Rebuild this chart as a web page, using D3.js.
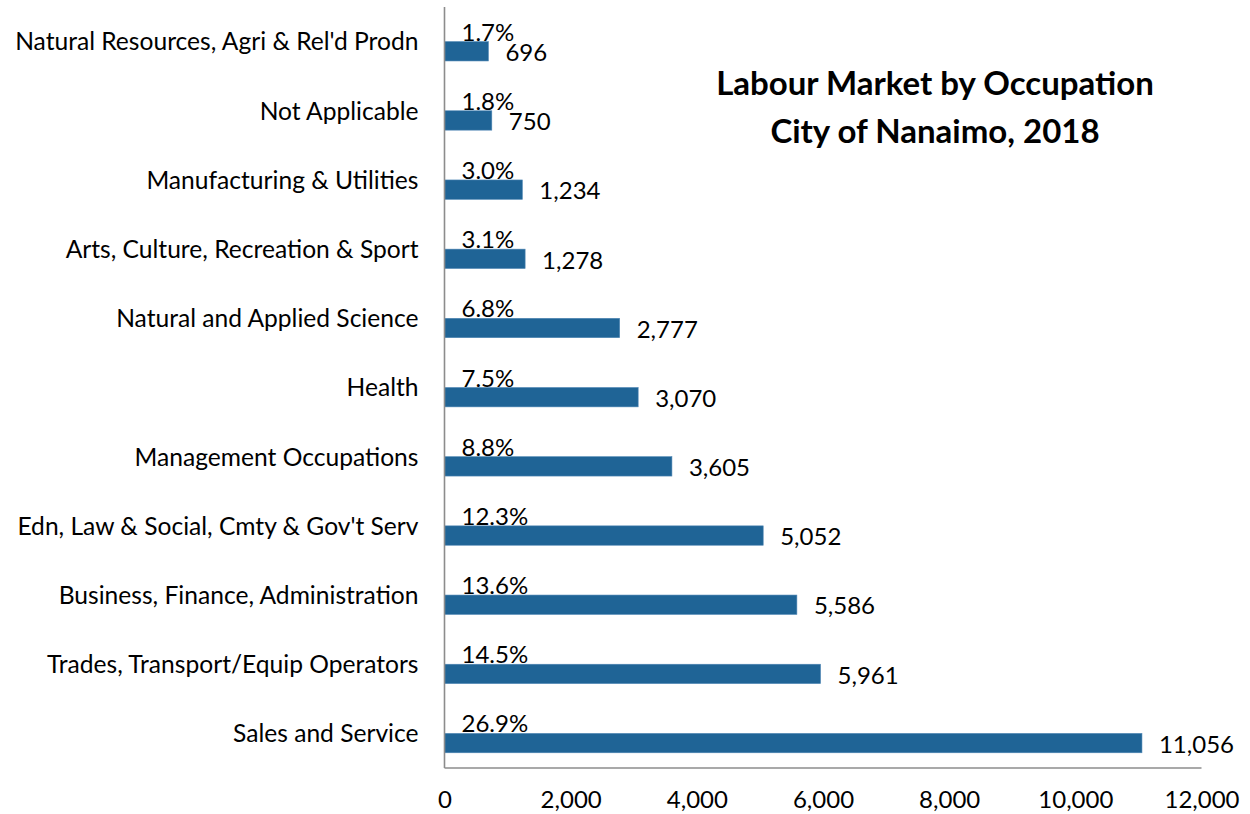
<!DOCTYPE html>
<html><head><meta charset="utf-8">
<script src="https://cdn.jsdelivr.net/npm/d3@7"></script>
<style>
body{margin:0;background:#fff;}
svg text{font-family:Lato,"Open Sans",sans-serif;fill:#000;}
</style></head>
<body><svg id="chart" width="1250" height="814"></svg>
<script>
const categories = ["Natural Resources, Agri & Rel'd Prodn","Not Applicable","Manufacturing & Utilities","Arts, Culture, Recreation & Sport","Natural and Applied Science","Health","Management Occupations","Edn, Law & Social, Cmty & Gov't Serv","Business, Finance, Administration","Trades, Transport/Equip Operators","Sales and Service"];
const values = [696,750,1234,1278,2777,3070,3605,5052,5586,5961,11056];
const percents = [1.7,1.8,3.0,3.1,6.8,7.5,8.8,12.3,13.6,14.5,26.9];
const xTicks = [0,2000,4000,6000,8000,10000,12000];
const titleLines = ["Labour Market by Occupation","City of Nanaimo, 2018"];

const svg = d3.select("#chart");
const x = d3.scaleLinear().domain([0,12000]).range([444.5,1201.5]);
const y = d3.scaleBand().domain(categories).range([7,768]).padding(0);
const bw = y.bandwidth();
const barH = bw*0.28;
const fmt = d3.format(",");
const FS = "24px";

svg.selectAll("rect.bar").data(categories).join("rect")
  .attr("class","bar")
  .attr("x",x(0))
  .attr("y",(c)=>y(c)+bw/2)
  .attr("width",(c,i)=>x(values[i])-x(0))
  .attr("height",barH)
  .attr("fill","#1f6496")
  .attr("stroke","#4f86b4").attr("stroke-width",0.6);

svg.append("line").attr("x1",x(0)).attr("x2",x(0)).attr("y1",7).attr("y2",768)
  .attr("stroke","#8c8c8c").attr("stroke-width",1.6);
svg.append("line").attr("x1",x(0)).attr("x2",x(12000)).attr("y1",768).attr("y2",768)
  .attr("stroke","#8c8c8c").attr("stroke-width",1.6);

const xAxis = d3.axisBottom(x).tickValues(xTicks).tickFormat(fmt).tickSize(0).tickPadding(0);
const gx = svg.append("g").attr("transform","translate(0,768)").call(xAxis);
gx.select(".domain").remove();
gx.selectAll("text").attr("y",40).attr("dy",null).attr("font-size",FS).attr("font-family","Lato").attr("fill","#000");

const yAxis = d3.axisLeft(y).tickSize(0).tickPadding(26);
const gy = svg.append("g").attr("transform",`translate(${x(0)},0)`).call(yAxis);
gy.select(".domain").remove();
gy.selectAll("text").attr("font-size","24.6px").attr("font-family","Lato").attr("fill","#000").attr("dy","0.36em");

svg.selectAll("text.pct").data(categories).join("text")
  .attr("class","pct")
  .attr("x",x(0)+17)
  .attr("y",(c)=>y(c)+bw/2-1)
  .attr("font-size",FS)
  .text((c,i)=>percents[i].toFixed(1)+"%");

svg.selectAll("text.val").data(categories).join("text")
  .attr("class","val")
  .attr("x",(c,i)=>x(values[i])+17)
  .attr("y",(c)=>y(c)+bw/2+barH)
  .attr("font-size",FS)
  .text((c,i)=>fmt(values[i]));

svg.selectAll("text.title").data(titleLines).join("text")
  .attr("class","title")
  .attr("x",935)
  .attr("y",(d,i)=>95+i*48)
  .attr("text-anchor","middle")
  .attr("font-size","33px").attr("font-weight","bold")
  .text(d=>d);
</script></body></html>
